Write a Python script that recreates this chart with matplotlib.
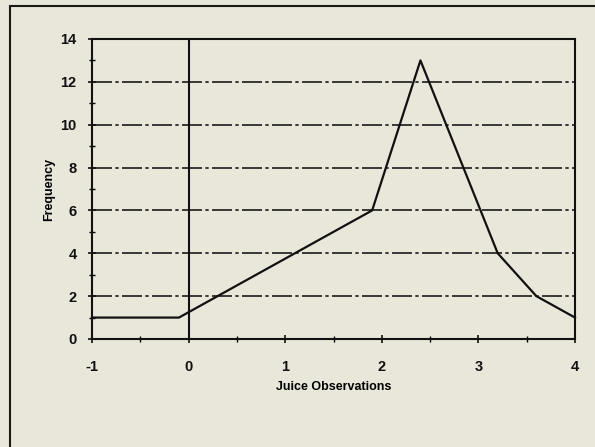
import matplotlib
matplotlib.use("Agg")
import matplotlib.pyplot as plt
from matplotlib.patches import Rectangle
from matplotlib.ticker import MultipleLocator

x_vals = [-1.0, -0.1, 1.9, 2.4, 3.2, 3.6, 4.0]
freq = [1.0, 1.0, 6.0, 13.0, 4.0, 2.0, 1.0]
x_ticks = [-1, 0, 1, 2, 3, 4]
y_ticks = [0, 2, 4, 6, 8, 10, 12, 14]

bg = "#e9e6da"
plt.rcParams['font.family'] = ['Liberation Sans', 'DejaVu Sans']

fig = plt.figure(figsize=(5.95, 4.47), dpi=100, facecolor=bg)
# outer frame (left and top edges visible)
fig.patches.append(Rectangle((10/595, -0.05), 1.2, 1 - 6/447 + 0.05,
                             transform=fig.transFigure, fill=False,
                             edgecolor="#1a1a1a", linewidth=1.5))

ax = fig.add_axes([92/595, 1 - 339/447, (575-92)/595, (339-39)/447])
ax.set_facecolor(bg)
ax.set_xlim(-1, 4)
ax.set_ylim(0, 14)
ax.set_xticks(x_ticks)
ax.set_yticks(y_ticks)
ax.xaxis.set_minor_locator(MultipleLocator(0.5))
ax.yaxis.set_minor_locator(MultipleLocator(1))
ax.tick_params(axis='both', which='major', direction='inout', length=6, width=1.2,
               labelsize=10.5, colors="#111111")
ax.tick_params(axis='x', which='major', pad=12)
ax.tick_params(axis='y', which='major', pad=8)
ax.tick_params(axis='both', which='minor', direction='inout', length=4, width=1.0)
ax.set_xticklabels([str(t) for t in x_ticks], fontweight='bold')
ax.set_yticklabels([str(t) for t in y_ticks], fontweight='bold')
for s in ax.spines.values():
    s.set_linewidth(1.5)
    s.set_color("#111111")

for yv in y_ticks[1:-1]:
    ax.axhline(yv, color="#1a1a1a", linewidth=1.2, linestyle=(0, (12, 2, 2, 2)), zorder=1)
ax.axvline(0, color="#111111", linewidth=1.5, zorder=1)

ax.plot(x_vals, freq, color="#111111", linewidth=1.6, zorder=3, clip_on=False)

ax.set_xlabel("Juice Observations", fontsize=9, fontweight='bold', labelpad=5)
ax.set_ylabel("Frequency", fontsize=9, fontweight='bold', labelpad=4)

fig.savefig("out.png", dpi=100, facecolor=bg)
